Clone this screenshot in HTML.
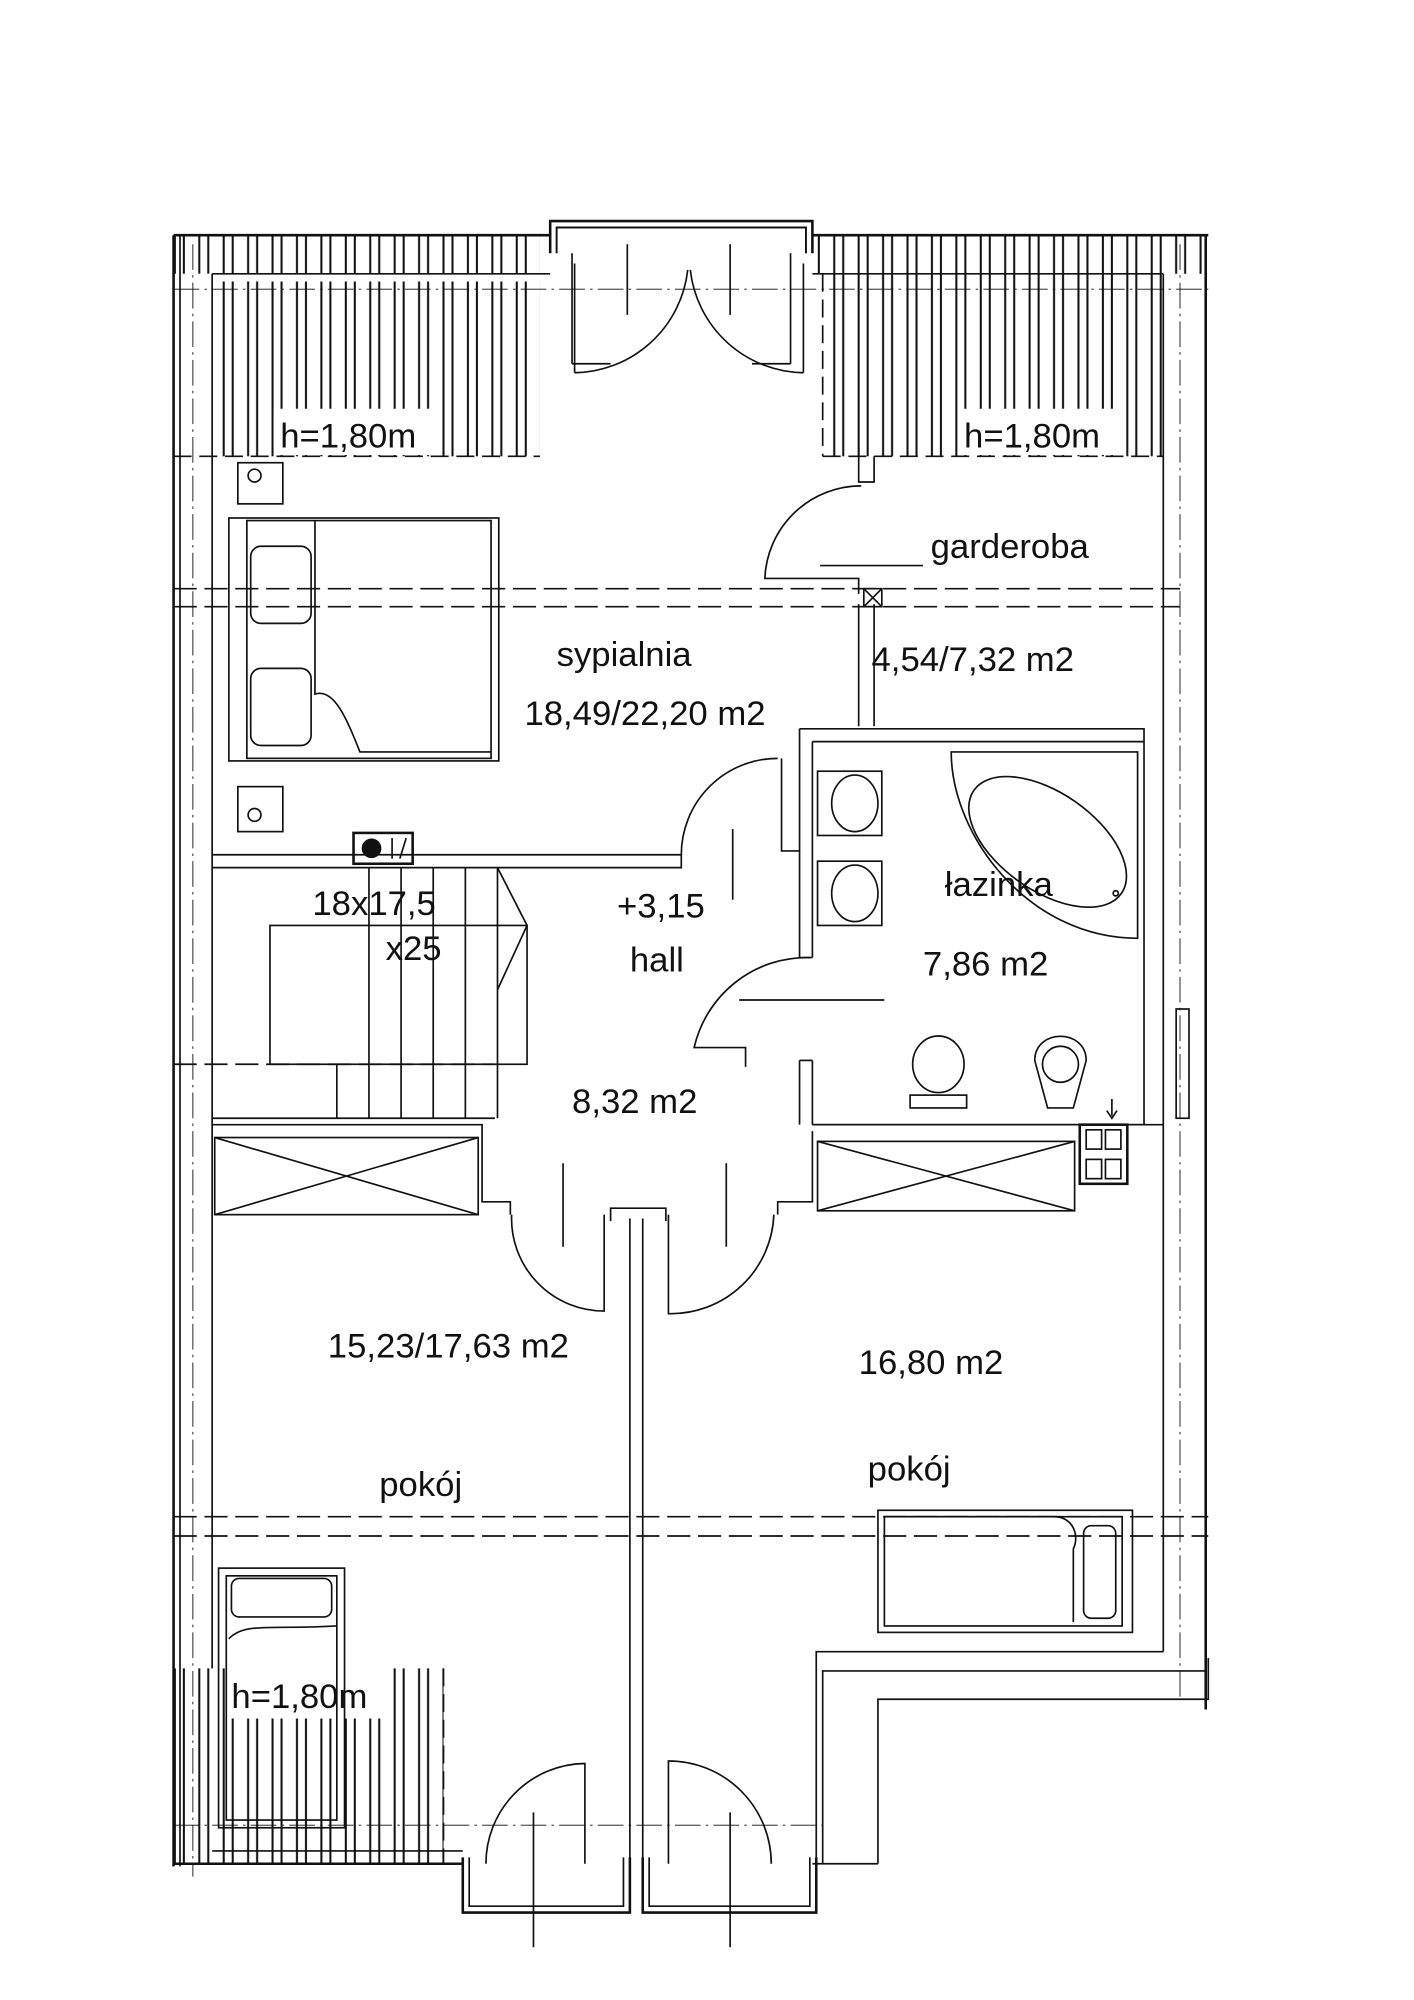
<!DOCTYPE html>
<html><head><meta charset="utf-8"><style>
html,body{margin:0;padding:0;background:#fff}
svg{display:block}
text{font-family:"Liberation Sans",sans-serif;font-size:27px;fill:#111}
</style></head><body>
<svg width="1414" height="2000" viewBox="0 0 1100 1556" xmlns="http://www.w3.org/2000/svg">
<defs>
<pattern id="h" width="19" height="10" patternUnits="userSpaceOnUse">
<rect width="19" height="10" fill="#fff"/>
<line x1="3" y1="0" x2="3" y2="10" stroke="#111" stroke-width="1.6"/>
<line x1="10" y1="0" x2="10" y2="10" stroke="#111" stroke-width="1.6"/>
</pattern>
</defs>
<g stroke="#111" fill="none" stroke-width="1.3">
<rect x="135" y="183" width="285" height="30" fill="url(#h)" stroke="none"/>
<rect x="150" y="213" width="240" height="6" fill="#fff" stroke="none"/>
<rect x="165" y="219" width="255" height="136" fill="url(#h)" stroke="none"/>
<rect x="213" y="318" width="130" height="36" fill="#fff" stroke="none"/>
<rect x="632" y="183" width="306" height="30" fill="url(#h)" stroke="none"/>
<rect x="640" y="213" width="265" height="142" fill="url(#h)" stroke="none"/>
<rect x="745" y="318" width="125" height="36" fill="#fff" stroke="none"/>
<rect x="135" y="1298" width="210" height="152" fill="url(#h)" stroke="none"/>
<rect x="178" y="1297" width="122" height="40" fill="#fff" stroke="none"/>
<line x1="135" y1="355" x2="420" y2="355" stroke-dasharray="14 6"/>
<line x1="640" y1="355" x2="905" y2="355" stroke-dasharray="14 6"/>
<line x1="345" y1="1298" x2="345" y2="1450" stroke-dasharray="14 6"/>
<line x1="640" y1="213" x2="640" y2="355" stroke-dasharray="14 6"/>
<line x1="135" y1="183" x2="428" y2="183" stroke-width="2"/>
<line x1="632" y1="183" x2="940" y2="183" stroke-width="2"/>
<line x1="135" y1="183" x2="135" y2="1452" stroke-width="2"/>
<line x1="140" y1="183" x2="140" y2="1452"/>
<line x1="165" y1="213" x2="165" y2="1298"/>
<line x1="150" y1="190" x2="150" y2="1460" stroke-dasharray="20 4 2 4" stroke-width="0.7"/>
<line x1="938" y1="183" x2="938" y2="1330" stroke-width="2"/>
<line x1="918" y1="190" x2="918" y2="1322" stroke-dasharray="20 4 2 4" stroke-width="0.7"/>
<line x1="905" y1="213" x2="905" y2="1285"/>
<line x1="165" y1="213" x2="428" y2="213"/>
<line x1="632" y1="213" x2="905" y2="213"/>
<line x1="135" y1="225" x2="940" y2="225" stroke-dasharray="20 4 2 4" stroke-width="0.7"/>
<rect x="915" y="785" width="10" height="85"/>
<path d="M428 197 V172 H632 V197" stroke-width="2"/>
<path d="M433 197 V177 H627 V197" stroke-width="1.5"/>
<line x1="445" y1="197" x2="445" y2="283"/>
<line x1="615" y1="197" x2="615" y2="283"/>
<line x1="445" y1="283" x2="475" y2="283"/>
<line x1="585" y1="283" x2="615" y2="283"/>
<path d="M447 290 A90 90 0 0 0 535 210"/>
<path d="M625 290 A90 90 0 0 1 537 210"/>
<line x1="447" y1="290" x2="447" y2="205"/>
<line x1="625" y1="290" x2="625" y2="205"/>
<line x1="488" y1="190" x2="488" y2="245"/>
<line x1="568" y1="190" x2="568" y2="245"/>
<path d="M668 355 V375 H680 V355"/>
<path d="M670 378 A75 75 0 0 0 595 450 H668 V462"/>
<line x1="638" y1="440" x2="718" y2="440"/>
<line x1="668" y1="470" x2="668" y2="565"/>
<line x1="680" y1="470" x2="680" y2="565"/>
<rect x="672" y="458" width="14" height="14"/>
<line x1="672" y1="458" x2="686" y2="472"/><line x1="686" y1="458" x2="672" y2="472"/>
<line x1="135" y1="458" x2="918" y2="458" stroke-dasharray="18 6"/>
<line x1="135" y1="472" x2="918" y2="472" stroke-dasharray="18 6"/>
<line x1="135" y1="1180" x2="940" y2="1180" stroke-dasharray="18 6"/>
<line x1="135" y1="1195" x2="940" y2="1195" stroke-dasharray="18 6"/>
<line x1="135" y1="828" x2="385" y2="828" stroke-dasharray="18 6"/>
<path d="M622 567 H890 V875 H632"/>
<path d="M632 577 H890"/>
<path d="M622 567 V662 H608 V590"/>
<path d="M632 577 V745"/>
<path d="M622 662 V745 H632"/>
<path d="M632 825 V875 M622 825 V875"/>
<rect x="636" y="600" width="50" height="50"/><ellipse cx="665" cy="625" rx="18" ry="22"/>
<rect x="636" y="670" width="50" height="50"/><ellipse cx="665" cy="695" rx="18" ry="22"/>
<path d="M740 585 H885 V730 C800 730 740 650 740 585Z"/>
<ellipse cx="815" cy="655" rx="70" ry="38" transform="rotate(35 815 655)"/>
<circle cx="868" cy="695" r="2"/>
<ellipse cx="730" cy="828" rx="20" ry="22"/><rect x="708" y="852" width="44" height="10"/>
<path d="M805 825 C805 800 845 800 845 825 L835 862 H815Z"/><ellipse cx="825" cy="828" rx="14" ry="14"/>
<path d="M605 590 A75 75 0 0 0 530 665"/>
<line x1="570" y1="645" x2="570" y2="700"/>
<path d="M630 745 A90 90 0 0 0 540 815 H580 V830"/>
<line x1="575" y1="778" x2="688" y2="778"/>
<line x1="632" y1="825" x2="622" y2="825"/>
<path d="M165 665 H530 V675 H165"/>
<rect x="275" y="648" width="46" height="24" stroke-width="2"/>
<circle cx="289" cy="660" r="7" fill="#111"/>
<line x1="305" y1="652" x2="305" y2="668"/><line x1="311" y1="668" x2="316" y2="652"/>
<rect x="210" y="720" width="200" height="108"/>
<line x1="262" y1="828" x2="262" y2="870"/><line x1="287" y1="675" x2="287" y2="870"/>
<line x1="312" y1="675" x2="312" y2="870"/><line x1="337" y1="675" x2="337" y2="870"/>
<line x1="362" y1="675" x2="362" y2="870"/><line x1="387" y1="675" x2="387" y2="870"/>
<path d="M387 675 L410 720 L387 770"/>
<line x1="165" y1="870" x2="385" y2="870"/>
<path d="M165 875 H375 V935 H397 V945"/>
<rect x="167" y="885" width="205" height="60"/><line x1="167" y1="885" x2="372" y2="945"/><line x1="372" y1="885" x2="167" y2="945"/>
<path d="M632 875 H905 M632 880 V935 H605 V945"/>
<rect x="636" y="888" width="200" height="54"/><line x1="636" y1="888" x2="836" y2="942"/><line x1="836" y1="888" x2="636" y2="942"/>
<rect x="840" y="875" width="37" height="46" stroke-width="2"/>
<rect x="845" y="879" width="12" height="15"/><rect x="860" y="879" width="12" height="15"/>
<rect x="845" y="902" width="12" height="15"/><rect x="860" y="902" width="12" height="15"/>
<line x1="865" y1="855" x2="865" y2="868"/><path d="M861 864 L865 870 L869 864"/>
<path d="M398 945 A72 72 0 0 0 470 1020 V945"/>
<line x1="438" y1="905" x2="438" y2="970"/>
<path d="M602 945 A80 80 0 0 1 520 1022 V945"/>
<line x1="565" y1="905" x2="565" y2="970"/>
<path d="M475 950 V940 H518 V950"/>
<line x1="490" y1="948" x2="490" y2="1480"/>
<line x1="500" y1="948" x2="500" y2="1480"/>
<line x1="135" y1="1450" x2="360" y2="1450" stroke-width="2"/>
<line x1="165" y1="1440" x2="360" y2="1440"/>
<path d="M360 1445 V1488 H490 V1445" stroke-width="2"/>
<path d="M365 1445 V1483 H485 V1445"/>
<path d="M500 1445 V1488 H635 V1445" stroke-width="2"/>
<path d="M505 1445 V1483 H630 V1445"/>
<path d="M378 1450 A78 78 0 0 1 455 1372 V1450"/>
<path d="M600 1450 A80 80 0 0 0 520 1370 V1450"/>
<line x1="415" y1="1410" x2="415" y2="1515"/>
<line x1="568" y1="1410" x2="568" y2="1515"/>
<line x1="135" y1="1420" x2="640" y2="1420" stroke-dasharray="20 4 2 4" stroke-width="0.7"/>
<path d="M635 1450 V1285 H905"/>
<path d="M640 1450 V1300 H918"/>
<path d="M683 1450 V1322 H940 V1290"/>
<path d="M632 1450 H683"/>
<line x1="918" y1="1300" x2="938" y2="1300"/>
<rect x="178" y="403" width="210" height="189"/>
<rect x="192" y="405" width="190" height="185"/>
<path d="M245 405 V540 C260 535 270 560 280 585 H382"/>
<rect x="195" y="425" width="47" height="60" rx="8"/>
<rect x="195" y="520" width="47" height="60" rx="8"/>
<rect x="185" y="360" width="35" height="32"/><circle cx="198" cy="370" r="5"/>
<rect x="185" y="612" width="35" height="35"/><circle cx="198" cy="634" r="5"/>
<rect x="683" y="1175" width="198" height="95"/>
<rect x="688" y="1180" width="185" height="85"/>
<path d="M688 1180 H820 C835 1180 840 1195 835 1205 V1262"/>
<rect x="843" y="1187" width="25" height="72" rx="6"/>
<rect x="170" y="1220" width="98" height="202"/>
<rect x="176" y="1226" width="86" height="190"/>
<rect x="180" y="1228" width="78" height="30" rx="6"/>
<path d="M178 1275 C190 1262 210 1268 262 1265"/>
</g>
<text x="218" y="348">h=1,80m</text>
<text x="750" y="348">h=1,80m</text>
<text x="724" y="434">garderoba</text>
<text x="433" y="518">sypialnia</text>
<text x="408" y="564">18,49/22,20 m2</text>
<text x="678" y="522">4,54/7,32 m2</text>
<text x="243" y="712">18x17,5</text>
<text x="300" y="747">x25</text>
<text x="480" y="714">+3,15</text>
<text x="490" y="756">hall</text>
<text x="735" y="697">łazinka</text>
<text x="718" y="759">7,86 m2</text>
<text x="445" y="866">8,32 m2</text>
<text x="255" y="1056">15,23/17,63 m2</text>
<text x="668" y="1069">16,80 m2</text>
<text x="295" y="1164">pokój</text>
<text x="675" y="1152">pokój</text>
<text x="180" y="1329">h=1,80m</text>
</svg>
</body></html>
